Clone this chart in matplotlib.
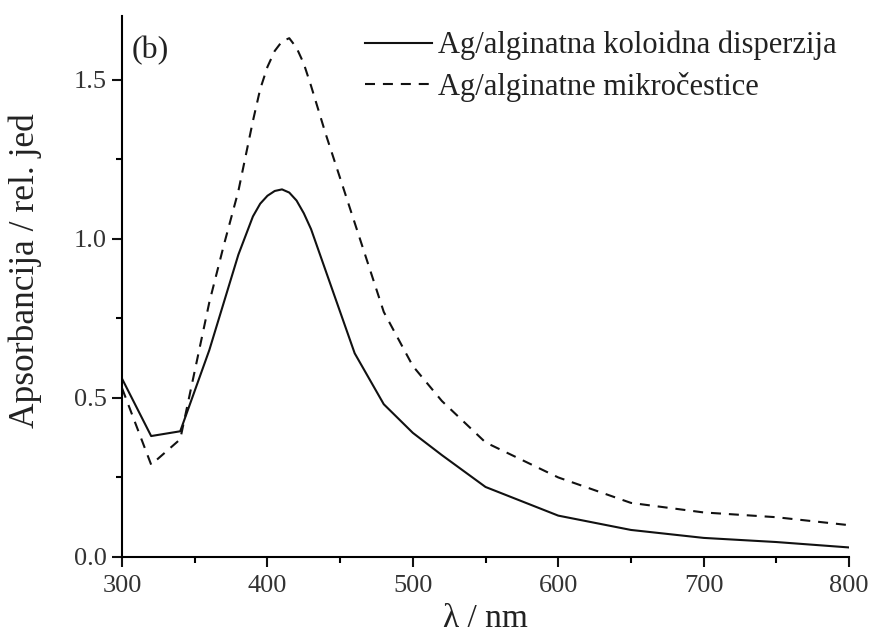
import numpy as np
import matplotlib
matplotlib.use('Agg')
import matplotlib.pyplot as plt
from matplotlib.ticker import MultipleLocator, FormatStrFormatter

plt.rcParams['font.family'] = ['Liberation Serif', 'DejaVu Serif']

# wavelengths (nm) and absorbance
wl = [300, 320, 340, 360, 370, 380, 390, 395, 400, 405, 410, 415, 420, 425,
      430, 440, 460, 480, 500, 520, 550, 600, 650, 700, 750, 800]
koloid = [0.56, 0.38, 0.395, 0.65, 0.80, 0.95, 1.07, 1.11, 1.135, 1.15, 1.155,
          1.145, 1.12, 1.08, 1.03, 0.90, 0.64, 0.48, 0.39, 0.32, 0.22, 0.13,
          0.085, 0.06, 0.047, 0.03]
mikro = [0.53, 0.29, 0.37, 0.80, 0.98, 1.15, 1.37, 1.47, 1.54, 1.59, 1.62,
         1.63, 1.60, 1.55, 1.48, 1.33, 1.05, 0.77, 0.60, 0.49, 0.36, 0.25,
         0.17, 0.14, 0.125, 0.10]
labels = ['Ag/alginatna koloidna disperzija', 'Ag/alginatne mikročestice']

fig = plt.figure(figsize=(8.72, 6.37), dpi=100)
ax = fig.add_axes([0.140, 0.1256, 0.8336, 0.8494])

ax.plot(wl, koloid, color='#111111', lw=1.5, label=labels[0])
ax.plot(wl, mikro, color='#111111', lw=1.5, dashes=(4.8, 3.8), label=labels[1])

ax.set_xlim(300, 800)
ax.set_ylim(0, 1.70)
ax.xaxis.set_major_locator(MultipleLocator(100))
ax.xaxis.set_minor_locator(MultipleLocator(50))
ax.yaxis.set_major_locator(MultipleLocator(0.5))
ax.yaxis.set_minor_locator(MultipleLocator(0.25))
ax.spines['top'].set_visible(False)
ax.spines['right'].set_visible(False)
for s in ['left', 'bottom']:
    ax.spines[s].set_linewidth(1.5)
ax.tick_params(which='major', direction='out', length=7, width=1.5,
               labelsize=19, colors='#111111', labelcolor='#333333', pad=4)
ax.tick_params(axis='x', which='major', pad=6)
ax.tick_params(which='minor', direction='out', length=4, width=1.5)
ax.yaxis.set_major_formatter(FormatStrFormatter('%.1f'))

ax.set_xlabel('λ / nm', fontsize=24, color='#222222')
ax.xaxis.set_label_coords(0.5, -0.086)
ax.set_ylabel('Apsorbancija / rel. jed', fontsize=25.5, color='#222222')
ax.yaxis.set_label_coords(-0.11, 0.53)

ax.text(0.013, 0.963, '(b)', transform=ax.transAxes, fontsize=23,
        va='top', ha='left', color='#222222')

leg = ax.legend(loc='upper left', bbox_to_anchor=(365 / 872, 1 - 31 / 637),
                bbox_transform=fig.transFigure, frameon=False,
                fontsize=22, handlelength=2.2, handletextpad=0.2,
                labelspacing=0.36, borderpad=0, borderaxespad=0)
for t in leg.get_texts():
    t.set_color('#222222')

fig.savefig('out.png', dpi=100)
